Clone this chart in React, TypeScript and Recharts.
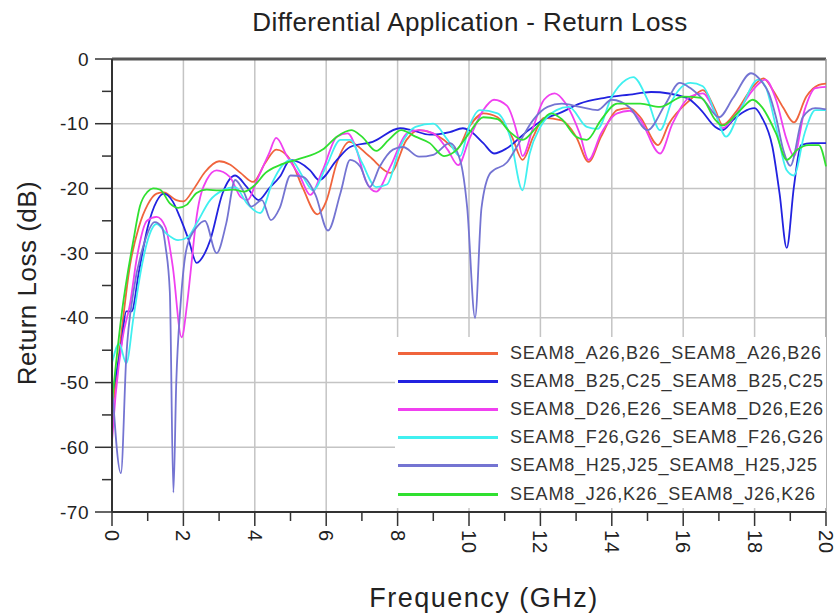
import React from 'react';
import { LineChart, Line, XAxis, YAxis, ReferenceLine, Legend } from 'recharts';

const FONT = '"Liberation Sans", Arial, Helvetica, sans-serif';

const titleText = 'Differential Application - Return Loss';
const xLabel = 'Frequency (GHz)';
const yLabel = 'Return Loss (dB)';

const xTicks = [0, 1, 2, 3, 4, 5, 6, 7, 8, 9, 10, 11, 12, 13, 14, 15, 16, 17, 18, 19, 20];
const yTicks = [-70, -65, -60, -55, -50, -45, -40, -35, -30, -25, -20, -15, -10, -5, 0];
const xGrid = [2, 4, 6, 8, 10, 12, 14, 16, 18];
const yGrid = [-60, -50, -40, -30, -20, -10];

const seriesNames = [
  'SEAM8_A26,B26_SEAM8_A26,B26',
  'SEAM8_B25,C25_SEAM8_B25,C25',
  'SEAM8_D26,E26_SEAM8_D26,E26',
  'SEAM8_F26,G26_SEAM8_F26,G26',
  'SEAM8_H25,J25_SEAM8_H25,J25',
  'SEAM8_J26,K26_SEAM8_J26,K26',
];
const seriesColors = ['#f0643c', '#2222e0', '#f040f0', '#40f0f0', '#7474d2', '#30e030'];

const a26F = [0, 0.25, 0.5, 0.75, 1.0, 1.25, 1.45, 1.8, 2.0, 2.3, 2.6, 3.0, 3.3, 3.6, 3.95, 4.3, 4.6, 5.0, 5.35, 5.75, 6.0, 6.3, 6.65, 7.2, 7.8, 8.25, 8.6, 8.9, 9.3, 9.65, 10.0, 10.4, 10.8, 11.2, 11.5, 11.8, 12.1, 12.6, 13.0, 13.35, 13.7, 14.15, 14.5, 14.8, 15.3, 15.6, 16.2, 16.55, 16.9, 17.1, 17.5, 17.95, 18.25, 18.5, 18.8, 19.1, 19.45, 19.8, 20];
const a26V = [-55, -43, -32, -26, -22.5, -20.8, -20.6, -21.8, -22, -20, -17.5, -15.8, -16.3, -17.6, -19, -16, -14, -15.6, -20, -24, -22, -16, -12.8, -15, -17.6, -12.5, -11, -11.3, -12.5, -14, -10.5, -8.4, -9, -12, -15.6, -12, -9.1, -9.5, -12, -15.9, -12, -7.9, -7.6, -9, -13.3, -10, -6.3, -4.8, -7.9, -10.2, -8, -4.3, -3, -4.7, -7.5, -9.8, -5.8, -4, -3.8];

const b25F = [0, 0.25, 0.4, 0.55, 0.75, 1.0, 1.25, 1.45, 1.7, 1.9, 2.15, 2.37, 2.6, 2.75, 3.1, 3.45, 3.78, 4.1, 4.4, 4.7, 5.0, 5.55, 5.8, 6.3, 6.67, 7.3, 8.07, 8.4, 8.9, 9.46, 9.83, 10.0, 10.4, 10.7, 11.06, 11.6, 12.08, 12.6, 13.1, 13.8, 14.5, 15.1, 16.1, 16.5, 16.9, 17.1, 17.4, 18.0, 18.2, 18.5, 18.7, 18.9, 19.1, 19.3, 19.6, 20];
const b25V = [-52, -44.5, -39, -39, -33, -26, -22, -20.8, -22, -24.4, -28, -31.5, -30, -28, -20.7, -18, -19.8, -21.8, -20, -18.2, -15.6, -17.2, -18.7, -15.6, -13.6, -12.8, -10.7, -11, -11.7, -11.3, -10.7, -11, -13, -14.6, -13.8, -11.3, -9.4, -8.2, -6.9, -6, -5.5, -5.1, -6, -7.9, -10.5, -11, -9.4, -7.6, -9, -13.6, -20.8, -29.2, -19.8, -13.3, -13, -13];

const d26F = [0, 0.1, 0.3, 0.5, 0.7, 0.98, 1.25, 1.5, 1.7, 1.95, 2.1, 2.2, 2.37, 2.65, 2.93, 3.3, 3.6, 3.8, 4.06, 4.4, 4.6, 4.9, 5.27, 5.55, 5.9, 6.3, 6.6, 6.85, 7.1, 7.4, 7.8, 8.26, 8.6, 9.0, 9.4, 9.7, 10.0, 10.4, 10.7, 11.06, 11.35, 11.5, 11.8, 12.1, 12.4, 12.7, 13.1, 13.35, 13.7, 14.15, 14.5, 14.8, 15.35, 15.7, 16.2, 16.55, 16.9, 17.1, 17.5, 17.95, 18.3, 18.6, 18.9, 19.1, 19.4, 19.7, 20];
const d26V = [-59, -52, -43, -38, -30.6, -25, -24.4, -26, -32, -43, -38, -33, -24.4, -18.7, -17.2, -18.2, -21.3, -21.8, -18.7, -14.6, -12.2, -15, -18.2, -21, -17.2, -12, -11.5, -14, -18.7, -20.5, -16.6, -11.5, -11, -11.5, -14, -16.4, -12.5, -7.9, -6.3, -7.2, -11.5, -15, -10.5, -6.3, -5.3, -6.8, -11.5, -15.6, -11.5, -8.4, -8, -9.4, -14.6, -10, -5.8, -5.3, -8.4, -10.7, -8.4, -4.8, -3.2, -6.3, -12.5, -15, -7.9, -4.5, -4.3];

const f26F = [0, 0.2, 0.4, 0.6, 0.8, 1.0, 1.25, 1.53, 1.85, 2.13, 2.37, 2.75, 3.1, 3.45, 3.78, 4.15, 4.5, 4.75, 5.0, 5.35, 5.63, 6.0, 6.4, 6.67, 7.0, 7.4, 7.7, 8.07, 8.5, 9.0, 9.4, 9.75, 10.0, 10.3, 10.8, 11.15, 11.5, 11.7, 12.0, 12.45, 12.8, 13.3, 13.6, 14.0, 14.4, 14.6, 15.0, 15.35, 15.7, 16.2, 16.55, 16.9, 17.2, 17.6, 18.1, 18.3, 18.6, 18.9, 19.1, 19.4, 19.7, 20];
const f26V = [-47, -44, -47, -40, -33, -28, -25.5, -27, -28, -27.5, -25.4, -21.8, -20.3, -19.8, -22.3, -23.8, -19, -16.6, -15.6, -18.2, -20.3, -16.6, -12.5, -12.5, -16, -19.8, -19.4, -13.6, -10.5, -10, -12.5, -15, -10.5, -7.9, -8.4, -12, -20.3, -14.6, -10.5, -7.9, -7.4, -10.5, -10.8, -5.8, -3.2, -2.8, -6.3, -11, -6.3, -3.7, -4.2, -8.4, -12, -7.9, -3.2, -4.2, -10.5, -17.2, -18, -11.5, -7.9, -7.9];

const h25F = [0, 0.25, 0.4, 0.6, 0.9, 1.2, 1.4, 1.5, 1.62, 1.72, 1.8, 1.92, 2.1, 2.37, 2.6, 2.93, 3.2, 3.45, 3.67, 3.9, 4.2, 4.45, 4.7, 5.0, 5.35, 5.7, 6.05, 6.4, 6.67, 6.95, 7.22, 7.5, 7.87, 8.15, 8.6, 9.0, 9.46, 9.75, 9.95, 10.17, 10.35, 10.6, 11.06, 11.4, 11.8, 12.2, 12.6, 13.1, 13.6, 14.0, 14.5, 15.0, 15.5, 15.9, 16.2, 16.6, 17.0, 17.4, 17.9, 18.2, 18.4, 18.6, 18.8, 19.0, 19.35, 19.7, 20];
const h25V = [-50, -64, -46, -36, -28.5, -25.2, -26, -29, -36, -67, -50, -38, -29, -26, -25, -30, -25.4, -18.7, -20.3, -22.8, -21.8, -24.9, -23, -18, -18.2, -21, -26.5, -20.7, -15.6, -16.6, -19.8, -16.6, -14, -13.6, -15.1, -14.8, -13, -15.6, -23, -40, -23, -17.6, -16, -13, -9.4, -7.4, -6.9, -7.4, -7.9, -6.3, -7.5, -11, -7, -3.7, -4.5, -6.5, -9, -6, -2.2, -3.5, -5.3, -9, -14, -16.5, -9, -7.6, -7.8];

const j26F = [0, 0.28, 0.6, 0.78, 1.0, 1.15, 1.35, 1.62, 1.85, 2.1, 2.37, 2.65, 3.0, 3.4, 3.7, 4.0, 4.3, 4.7, 5.2, 5.9, 6.3, 6.7, 7.0, 7.4, 7.75, 8.1, 8.5, 8.9, 9.3, 9.66, 10.0, 10.4, 10.8, 11.15, 11.5, 11.9, 12.3, 12.6, 13.0, 13.3, 13.7, 14.15, 14.8, 15.35, 16.0, 16.5, 16.9, 17.1, 17.6, 17.95, 18.2, 18.6, 18.9, 19.2, 19.5, 19.8, 20];
const j26V = [-53, -39, -28, -22.8, -20.5, -20, -20.2, -22.3, -23, -22.5, -20.7, -20.2, -20.3, -20.2, -20.5, -19.5, -17.6, -16.4, -15.5, -14, -12, -11, -12, -14.2, -12.5, -11, -12, -13, -15, -14, -11.5, -9, -9.3, -11.3, -12.5, -10.5, -8.4, -9.3, -12, -12.5, -9.4, -6.9, -6.9, -7.4, -5.8, -6, -9.4, -10.3, -7.9, -6.3, -7.4, -11.5, -15.6, -14, -13.3, -13.3, -16.6];

const seriesFreqs = [a26F, b25F, d26F, f26F, h25F, j26F];
const seriesValues = [a26V, b25V, d26V, f26V, h25V, j26V];

const seriesData = seriesFreqs.map((fs, si) => fs.map((f, i) => ({ f, v: seriesValues[si][i] })));

const XTick = (props: any) => {
  const { x, y, payload } = props;
  const v = payload.value;
  const major = v % 2 === 0;
  const ty = y + 18;
  return (
    <g>
      <line x1={x} y1={y} x2={x} y2={y + (major ? 14 : 9)} stroke="#333" strokeWidth={1.5} />
      {major && (
        <text x={x} y={ty} transform={`rotate(90 ${x} ${ty})`} textAnchor="start" dominantBaseline="central" fontSize={20} letterSpacing={1} fill="#222" fontFamily={FONT}>
          {v}
        </text>
      )}
    </g>
  );
};

const YTick = (props: any) => {
  const { x, y, payload } = props;
  const v = payload.value;
  const major = v % 10 === 0;
  return (
    <g>
      <line x1={x - (major ? 17 : 10)} y1={y} x2={x} y2={y} stroke="#333" strokeWidth={1.5} />
      {major && (
        <text x={x - 23} y={y} textAnchor="end" dominantBaseline="central" fontSize={19} letterSpacing={0.5} fill="#222" fontFamily={FONT}>
          {v}
        </text>
      )}
    </g>
  );
};

const renderLegend = (props: any) => {
  const { payload } = props;
  return (
    <div style={{ background: '#fff', paddingTop: 2, fontFamily: FONT }}>
      {(payload || []).map((p: any, i: number) => (
        <div key={i} style={{ display: 'flex', alignItems: 'center', height: 28.2 }}>
          <div style={{ width: 100, height: 3, background: p.color, marginLeft: 3, marginRight: 12 }} />
          <span style={{ fontSize: 18, letterSpacing: 0.8, color: '#333', whiteSpace: 'nowrap' }}>{p.value}</span>
        </div>
      ))}
    </div>
  );
};

export default function App() {
  return (
    <div style={{ position: 'absolute', left: 0, top: 0, width: 838, height: 613, background: '#fff', fontFamily: FONT }}>
      <div style={{ position: 'absolute', left: 470, top: 22, transform: 'translate(-50%, -50%)', fontSize: 26, letterSpacing: 0.4, color: '#222', whiteSpace: 'nowrap' }}>
        {titleText}
      </div>
      <div style={{ position: 'absolute', left: 484, top: 598, transform: 'translate(-50%, -50%)', fontSize: 27, letterSpacing: 1.5, color: '#222', whiteSpace: 'nowrap' }}>
        {xLabel}
      </div>
      <div style={{ position: 'absolute', left: 27, top: 283, transform: 'translate(-50%, -50%) rotate(-90deg)', fontSize: 26, letterSpacing: 0.5, color: '#222', whiteSpace: 'nowrap' }}>
        {yLabel}
      </div>
      <div style={{ position: 'absolute', left: 0, top: 0 }}>
        <LineChart width={838} height={613} margin={{ top: 59, right: 12, left: 52, bottom: 61 }}>
          <XAxis
            dataKey="f"
            type="number"
            domain={[0, 20]}
            ticks={xTicks}
            interval={0}
            tick={<XTick />}
            tickLine={false}
            tickSize={0}
            tickMargin={0}
            height={40}
            axisLine={{ stroke: '#333', strokeWidth: 2 }}
            allowDuplicatedCategory={false}
          />
          <YAxis
            type="number"
            domain={[-70, 0]}
            ticks={yTicks}
            interval={0}
            tick={<YTick />}
            tickLine={false}
            tickSize={0}
            tickMargin={0}
            width={60}
            axisLine={{ stroke: '#333', strokeWidth: 2 }}
          />
          {xGrid.map((g) => (
            <ReferenceLine key={'gx' + g} x={g} stroke="#c4c4c4" strokeWidth={1.5} />
          ))}
          {yGrid.map((g) => (
            <ReferenceLine key={'gy' + g} y={g} stroke="#c4c4c4" strokeWidth={1.5} />
          ))}
          <ReferenceLine y={0} stroke="#555" strokeWidth={3} />
          <ReferenceLine x={20} stroke="#999" strokeWidth={1.5} />
          <Legend
            layout="vertical"
            align="center"
            verticalAlign="middle"
            content={renderLegend}
            wrapperStyle={{ position: 'absolute', left: 395, top: 337, width: 431, height: 172 }}
          />
          {seriesData.map((d, i) => (
            <Line
              key={seriesNames[i]}
              data={d}
              dataKey="v"
              name={seriesNames[i]}
              type="monotone"
              stroke={seriesColors[i]}
              strokeWidth={1.8}
              dot={false}
              activeDot={false}
              isAnimationActive={false}
            />
          ))}
        </LineChart>
      </div>
    </div>
  );
}
